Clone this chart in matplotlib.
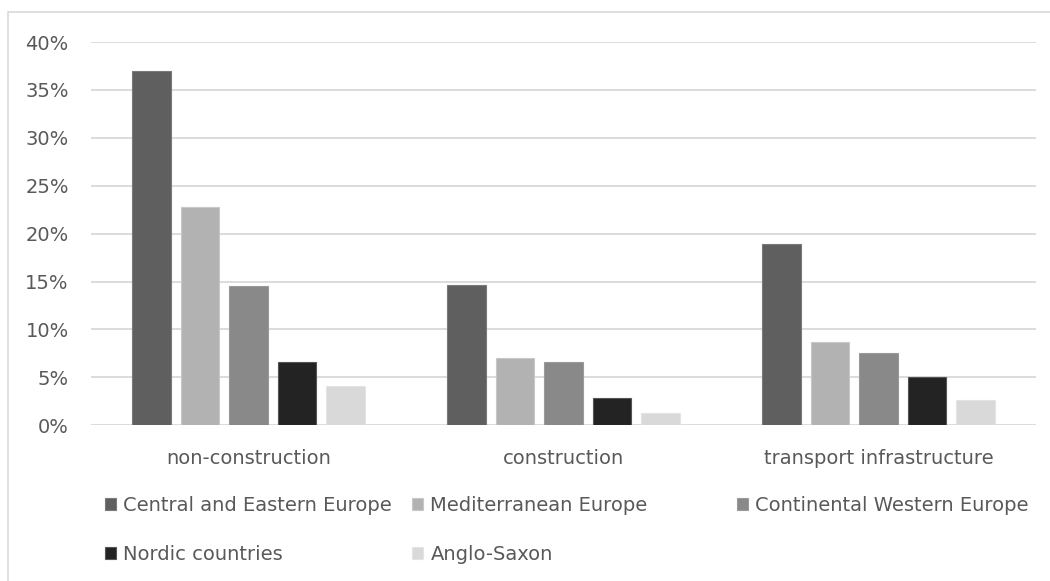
import matplotlib.pyplot as plt
import numpy as np
from matplotlib.patches import Rectangle
from matplotlib.ticker import FuncFormatter

plt.rcParams['font.family'] = ['DejaVu Sans']

categories = ['non-construction', 'construction', 'transport infrastructure']
regions = ['Central and Eastern Europe', 'Mediterranean Europe',
           'Continental Western Europe', 'Nordic countries', 'Anglo-Saxon']
shares = {
    'Central and Eastern Europe': [37.0, 14.6, 18.9],
    'Mediterranean Europe': [22.8, 7.0, 8.7],
    'Continental Western Europe': [14.5, 6.6, 7.5],
    'Nordic countries': [6.6, 2.9, 5.0],
    'Anglo-Saxon': [4.1, 1.3, 2.6],
}
colors = ['#5f5f5f', '#b2b2b2', '#898989', '#232323', '#d9d9d9']
edges = ['#7a7a7a', '#c8c8c8', '#9a9a9a', '#555555', '#e4e4e4']

text_color = '#595959'
grid_color = '#d9d9d9'

fig = plt.figure(figsize=(10.5, 5.81), dpi=100)
ax = fig.add_axes([91 / 1050, 1 - 425.3 / 581, 945 / 1050, (425.3 - 42) / 581])

x = np.arange(len(categories))
width = 0.122
step = 0.1537
handles = {}
for i, name in enumerate(regions):
    offset = (i - 2) * step
    bars = ax.bar(x + offset, shares[name], width, color=colors[i],
                  edgecolor=edges[i], linewidth=0.8, label=name, zorder=3)
    handles[name] = bars

ax.set_xlim(-0.5, 2.5)
ax.set_ylim(0, 40)
ax.set_yticks(np.arange(0, 41, 5))
ax.yaxis.set_major_formatter(FuncFormatter(lambda v, _: f'{v:.0f}%'))
ax.set_xticks(x)
ax.set_xticklabels(categories)
ax.grid(axis='y', color=grid_color, linewidth=1.3, zorder=0)
ax.set_axisbelow(True)
for s in ax.spines.values():
    s.set_visible(False)
ax.tick_params(axis='y', length=0, pad=16, labelsize=14, labelcolor=text_color)
ax.tick_params(axis='x', length=0, pad=17, labelsize=14, labelcolor=text_color)

# legend laid out row by row in three fixed columns
layout = [
    (105, ['Central and Eastern Europe', 'Nordic countries']),
    (412, ['Mediterranean Europe', 'Anglo-Saxon']),
    (737, ['Continental Western Europe']),
]
for xpos, names in layout:
    fig.legend([handles[n] for n in names], names,
               loc='upper left', bbox_to_anchor=(xpos / 1050, 1 - 496 / 581),
               frameon=False, ncol=1, fontsize=14, labelcolor=text_color,
               borderpad=0, borderaxespad=0, handlelength=0.55,
               handleheight=0.55, handletextpad=0.4, labelspacing=1.55)

# chart area border (top and left edges in view)
fig.patches.append(Rectangle((8 / 1050, -0.1), 1.2, 1 - 12 / 581 + 0.1,
                             transform=fig.transFigure, fill=False,
                             edgecolor=grid_color, linewidth=1.2))

fig.savefig('out.png', dpi=100)
